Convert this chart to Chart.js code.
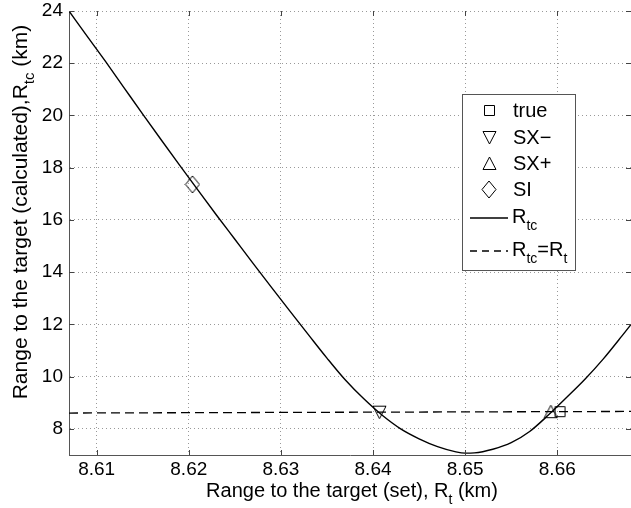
<!DOCTYPE html>
<html>
<head>
<meta charset="utf-8">
<script src="https://cdn.jsdelivr.net/npm/chart.js@4.4.0/dist/chart.umd.min.js"></script>
<style>
  html, body { margin: 0; padding: 0; background: #fff; }
</style>
</head>
<body>
<canvas id="chart" width="631" height="508"></canvas>
<script>
// R_tc curve, values
var rangeSet = [8.607, 8.609, 8.611, 8.613, 8.615, 8.617, 8.619, 8.621, 8.623, 8.625,
  8.627, 8.629, 8.631, 8.633, 8.635, 8.637, 8.639, 8.641, 8.643, 8.645,
  8.647, 8.649, 8.650, 8.651, 8.653, 8.655, 8.657, 8.659, 8.661, 8.663,
  8.665, 8.667, 8.668];
var rangeCalc = [24.0, 23.02, 22.05, 21.05, 20.05, 19.07, 18.1, 17.14, 16.19, 15.26,
  14.33, 13.41, 12.5, 11.6, 10.71, 9.87, 9.15, 8.52, 8.0, 7.62,
  7.32, 7.12, 7.07, 7.08, 7.22, 7.47, 7.9, 8.52, 9.2, 9.9,
  10.68, 11.55, 12.0];

// R_tc = R_t reference line
var diagX = [8.607, 8.668];
var diagY = [8.607, 8.668];

// markers [x, y]
var truePt = [8.6603, 8.6603];
var sxMinus = [8.6407, 8.6407];
var sxPlus = [8.6593, 8.6593];
var siPt = [8.6204, 17.36];

var xTicks = [8.61, 8.62, 8.63, 8.64, 8.65, 8.66];
var yTicks = [8, 10, 12, 14, 16, 18, 20, 22, 24];

var fontFam = "'Liberation Sans', Arial, Helvetica, sans-serif";
var mainFont = "20px " + fontFam;
var subFont = "14px " + fontFam;

function toPoints(xs, ys) {
  return xs.map(function (x, i) { return { x: x, y: ys[i] }; });
}

// little canvases used as point styles, so plot and legend share the same shapes
function markerCanvas(kind) {
  var c = document.createElement('canvas');
  var w = 13, h = 13;
  if (kind === 'square') { w = 11; h = 11; }
  if (kind === 'diamond') { w = 14; h = 17; }
  c.width = w + 2;
  c.height = h + 2;
  var g = c.getContext('2d');
  g.strokeStyle = '#000';
  g.lineWidth = 1;
  g.beginPath();
  if (kind === 'square') {
    g.rect(1.5, 1.5, w - 1, h - 1);
  } else if (kind === 'down') {
    g.moveTo(1, 1.5); g.lineTo(w + 1, 1.5); g.lineTo(w / 2 + 1, h + 1); g.closePath();
  } else if (kind === 'up') {
    g.moveTo(w / 2 + 1, 1); g.lineTo(w + 1, h + 0.5); g.lineTo(1, h + 0.5); g.closePath();
  } else {
    g.moveTo(w / 2 + 1, 1); g.lineTo(w + 1, h / 2 + 1); g.lineTo(w / 2 + 1, h + 1); g.lineTo(1, h / 2 + 1); g.closePath();
  }
  g.stroke();
  return c;
}

var mkSquare = markerCanvas('square');
var mkDown = markerCanvas('down');
var mkUp = markerCanvas('up');
var mkDiamond = markerCanvas('diamond');

function drawRich(ctx, parts, x, y, align, big, small) {
  var f1 = big || mainFont, f2 = small || subFont;
  var w = 0;
  parts.forEach(function (p) {
    ctx.font = p[1] ? f2 : f1;
    w += ctx.measureText(p[0]).width;
  });
  var cx = align === 'center' ? x - w / 2 : x;
  parts.forEach(function (p) {
    ctx.font = p[1] ? f2 : f1;
    ctx.fillText(p[0], cx, p[1] ? y + 7 : y);
    cx += ctx.measureText(p[0]).width;
  });
}

// scale paddings are zeroed so the plot box sits where the reference has it
function noPad(s) {
  s.paddingTop = 0; s.paddingBottom = 0; s.paddingLeft = 0; s.paddingRight = 0;
}

var decor = {
  id: 'decor',
  afterDraw: function (chart) {
    var ctx = chart.ctx;
    var a = chart.chartArea;
    var xs = chart.scales.x, ys = chart.scales.y;
    ctx.save();

    // inward ticks, matlab style
    ctx.strokeStyle = '#444';
    ctx.lineWidth = 1;
    ctx.beginPath();
    xTicks.forEach(function (v) {
      var px = Math.round(xs.getPixelForValue(v)) + 0.5;
      ctx.moveTo(px, a.bottom); ctx.lineTo(px, a.bottom - 5);
      ctx.moveTo(px, a.top); ctx.lineTo(px, a.top + 5);
    });
    yTicks.forEach(function (v) {
      var py = Math.round(ys.getPixelForValue(v)) + 0.5;
      ctx.moveTo(a.left, py); ctx.lineTo(a.left + 5, py);
      ctx.moveTo(a.right, py); ctx.lineTo(a.right - 5, py);
    });
    ctx.stroke();

    // axis titles
    ctx.fillStyle = '#000';
    ctx.textAlign = 'left';
    ctx.textBaseline = 'alphabetic';
    drawRich(ctx, [['Range to the target (set), R', false], ['t', true], [' (km)', false]], 352, 497, 'center');

    ctx.save();
    ctx.translate(27, 212);
    ctx.rotate(-Math.PI / 2);
    drawRich(ctx, [['Range to the target (calculated),R', false], ['tc', true], [' (km)', false]], 0, 0, 'center',
      '21px ' + fontFam, '15px ' + fontFam);
    ctx.restore();

    // legend box
    var bx = 462, by = 94, bw = 113, bh = 176;
    ctx.fillStyle = '#fff';
    ctx.fillRect(bx, by, bw, bh);
    ctx.strokeStyle = '#555';
    ctx.strokeRect(bx + 0.5, by + 0.5, bw, bh);

    var marks = [[mkSquare, 'true', 117], [mkDown, 'SX\u2212', 144], [mkUp, 'SX+', 170], [mkDiamond, 'SI', 196]];
    ctx.fillStyle = '#000';
    ctx.font = mainFont;
    marks.forEach(function (m) {
      ctx.drawImage(m[0], Math.round(489 - m[0].width / 2), Math.round(m[2] - 7 - m[0].height / 2));
      ctx.fillText(m[1], 513, m[2]);
    });

    ctx.strokeStyle = '#000';
    ctx.lineWidth = 1.3;
    ctx.beginPath();
    ctx.moveTo(470, 218); ctx.lineTo(508, 218);
    ctx.stroke();
    ctx.setLineDash([7, 5]);
    ctx.beginPath();
    ctx.moveTo(470, 251); ctx.lineTo(508, 251);
    ctx.stroke();
    ctx.setLineDash([]);

    drawRich(ctx, [['R', false], ['tc', true]], 512, 223, 'left');
    drawRich(ctx, [['R', false], ['tc', true], ['=R', false], ['t', true]], 512, 256, 'left');

    ctx.restore();
  }
};

var ctx = document.getElementById('chart').getContext('2d');
new Chart(ctx, {
  type: 'scatter',
  data: {
    datasets: [
      {
        label: 'Rtc',
        data: toPoints(rangeSet, rangeCalc),
        showLine: true,
        borderColor: '#000',
        borderWidth: 1.4,
        pointRadius: 0,
        cubicInterpolationMode: 'monotone'
      },
      {
        label: 'Rtc=Rt',
        data: toPoints(diagX, diagY),
        showLine: true,
        borderColor: '#000',
        borderWidth: 1.3,
        borderDash: [9, 5],
        pointRadius: 0
      },
      { label: 'true', data: [{ x: truePt[0], y: truePt[1] }], pointStyle: mkSquare, pointRadius: 6 },
      { label: 'SX-', data: [{ x: sxMinus[0], y: sxMinus[1] }], pointStyle: mkDown, pointRadius: 6 },
      { label: 'SX+', data: [{ x: sxPlus[0], y: sxPlus[1] }], pointStyle: mkUp, pointRadius: 6 },
      { label: 'SI', data: [{ x: siPt[0], y: siPt[1] }], pointStyle: mkDiamond, pointRadius: 6 }
    ]
  },
  options: {
    responsive: false,
    animation: false,
    devicePixelRatio: 1,
    layout: { autoPadding: false, padding: { top: 11, right: 0, bottom: 0, left: 0 } },
    plugins: {
      legend: { display: false },
      tooltip: { enabled: false }
    },
    scales: {
      x: {
        type: 'linear',
        min: 8.607,
        max: 8.668,
        afterBuildTicks: function (s) { s.ticks = xTicks.map(function (v) { return { value: v }; }); },
        afterFit: function (s) { s.height = 53; noPad(s); },
        ticks: {
          color: '#000',
          font: { family: fontFam, size: 19 },
          padding: 3,
          maxRotation: 0,
          autoSkip: false,
          callback: function (v) { return v.toFixed(2); }
        },
        grid: { color: '#999', drawTicks: false, lineWidth: 1 },
        border: { color: '#555', width: 1, dash: [1, 3] }
      },
      y: {
        type: 'linear',
        min: 7,
        max: 24,
        afterBuildTicks: function (s) { s.ticks = yTicks.map(function (v) { return { value: v }; }); },
        afterFit: function (s) { s.width = 69; noPad(s); },
        ticks: {
          color: '#000',
          font: { family: fontFam, size: 19 },
          padding: 6,
          callback: function (v) { return String(v); }
        },
        grid: { color: '#999', drawTicks: false, lineWidth: 1 },
        border: { color: '#555', width: 1, dash: [1, 3] }
      }
    }
  },
  plugins: [decor]
});
</script>
</body>
</html>
